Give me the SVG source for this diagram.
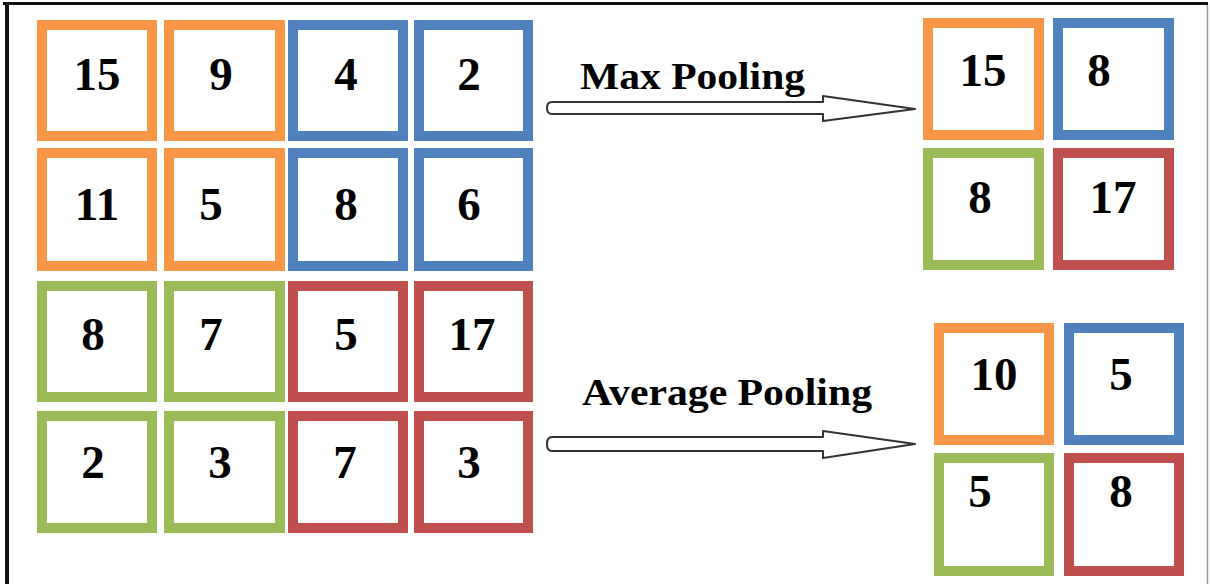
<svg xmlns="http://www.w3.org/2000/svg" width="1210" height="584" viewBox="0 0 1210 584">
  <style>
    .cell { fill: #ffffff; stroke-width: 10; }
    .o { stroke: #F79646; }
    .b { stroke: #4F81BD; }
    .g { stroke: #9BBB59; }
    .r { stroke: #C0504D; }
    .num { font-family: "Liberation Serif", "Times New Roman", serif; font-weight: bold; font-size: 47px; fill: #000000; text-anchor: middle; }
    .lbl { font-family: "Liberation Serif", "Times New Roman", serif; font-weight: bold; font-size: 38px; fill: #000000; }
    .arrow { fill: #ffffff; stroke: #333333; stroke-width: 2; stroke-linejoin: round; }
  </style>

  <rect x="0" y="0" width="1210" height="584" fill="#ffffff"/>
  <!-- frame -->
  <line x1="3" y1="3.5" x2="1208" y2="3.5" stroke="#111111" stroke-width="3"/>
  <line x1="7" y1="2" x2="7" y2="584" stroke="#111111" stroke-width="4"/>
  <line x1="1207.5" y1="5" x2="1207.5" y2="584" stroke="#999999" stroke-width="1.5"/>

  <!-- input 4x4 grid -->
  <g id="in-0-0"><rect class="cell o" x="42" y="25" width="110" height="111"/><text class="num" x="97" y="90">15</text></g>
  <g id="in-0-1"><rect class="cell o" x="169" y="25" width="111" height="111"/><text class="num" x="221" y="90">9</text></g>
  <g id="in-0-2"><rect class="cell b" x="293" y="25" width="110" height="111"/><text class="num" x="346" y="90">4</text></g>
  <g id="in-0-3"><rect class="cell b" x="419" y="25" width="109" height="111"/><text class="num" x="469" y="90">2</text></g>

  <g id="in-1-0"><rect class="cell o" x="42" y="153" width="110" height="113"/><text class="num" x="97" y="220">11</text></g>
  <g id="in-1-1"><rect class="cell o" x="169" y="153" width="111" height="113"/><text class="num" x="211" y="220">5</text></g>
  <g id="in-1-2"><rect class="cell b" x="293" y="153" width="110" height="113"/><text class="num" x="346" y="220">8</text></g>
  <g id="in-1-3"><rect class="cell b" x="419" y="153" width="109" height="113"/><text class="num" x="469" y="220">6</text></g>

  <g id="in-2-0"><rect class="cell g" x="42" y="286" width="110" height="111"/><text class="num" x="93" y="350">8</text></g>
  <g id="in-2-1"><rect class="cell g" x="169" y="286" width="111" height="111"/><text class="num" x="211" y="350">7</text></g>
  <g id="in-2-2"><rect class="cell r" x="293" y="286" width="110" height="111"/><text class="num" x="346" y="350">5</text></g>
  <g id="in-2-3"><rect class="cell r" x="419" y="286" width="109" height="111"/><text class="num" x="472" y="350">17</text></g>

  <g id="in-3-0"><rect class="cell g" x="42" y="416" width="110" height="112"/><text class="num" x="93" y="478">2</text></g>
  <g id="in-3-1"><rect class="cell g" x="169" y="416" width="111" height="112"/><text class="num" x="220" y="478">3</text></g>
  <g id="in-3-2"><rect class="cell r" x="293" y="416" width="110" height="112"/><text class="num" x="345" y="478">7</text></g>
  <g id="in-3-3"><rect class="cell r" x="419" y="416" width="109" height="112"/><text class="num" x="469" y="478">3</text></g>

  <!-- max pooling output -->
  <g id="max-0-0"><rect class="cell o" x="928" y="23" width="111" height="112"/><text class="num" x="983" y="86">15</text></g>
  <g id="max-0-1"><rect class="cell b" x="1058" y="23" width="111" height="112"/><text class="num" x="1099" y="86">8</text></g>
  <g id="max-1-0"><rect class="cell g" x="928" y="153" width="111" height="112"/><text class="num" x="980" y="213">8</text></g>
  <g id="max-1-1"><rect class="cell r" x="1058" y="153" width="111" height="112"/><text class="num" x="1113" y="213">17</text></g>

  <!-- average pooling output -->
  <g id="avg-0-0"><rect class="cell o" x="939" y="328" width="110" height="112"/><text class="num" x="994" y="390">10</text></g>
  <g id="avg-0-1"><rect class="cell b" x="1069" y="328" width="110" height="112"/><text class="num" x="1121" y="390">5</text></g>
  <g id="avg-1-0"><rect class="cell g" x="939" y="458" width="110" height="113"/><text class="num" x="980" y="507">5</text></g>
  <g id="avg-1-1"><rect class="cell r" x="1069" y="458" width="110" height="113"/><text class="num" x="1121" y="507">8</text></g>

  <!-- connectors -->
  <g id="connectors">
    <g id="max-pool">
      <path class="arrow" d="M552,102 L823,102 L823,96 L915,109 L823,121 L823,114 L552,114 Q547,114 547,108 Q547,102 552,102 Z"/>
      <text class="lbl" x="580" y="89" textLength="225" lengthAdjust="spacingAndGlyphs">Max Pooling</text>
    </g>
    <g id="avg-pool">
      <path class="arrow" d="M552,437 L823,437 L823,431 L915,444 L823,458 L823,451 L552,451 Q547,451 547,444 Q547,437 552,437 Z"/>
      <text class="lbl" x="582" y="405" textLength="290" lengthAdjust="spacingAndGlyphs">Average Pooling</text>
    </g>
  </g>
</svg>
